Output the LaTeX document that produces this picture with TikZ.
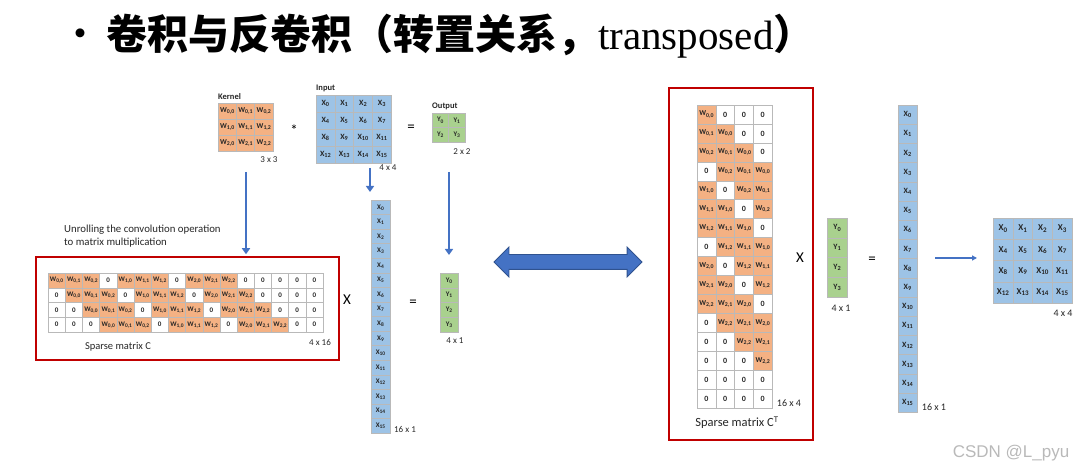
\documentclass[tikz,border=0pt]{standalone}
\usepackage{fontspec}
\setmainfont{Carlito}
\newfontfamily\cjk{Noto Sans CJK SC}
\newfontfamily\tser{Liberation Serif}
\newfontfamily\wmf{Liberation Sans}
\usetikzlibrary{arrows.meta,shapes.arrows}
\definecolor{org}{HTML}{F4B183}
\definecolor{blu}{HTML}{9DC3E6}
\definecolor{grn}{HTML}{A9D18E}
\definecolor{arr}{HTML}{4472C4}
\definecolor{arrd}{HTML}{2F528F}
\definecolor{redb}{HTML}{C00000}
\definecolor{txt}{HTML}{262626}
\newcommand\sbs[1]{\raisebox{-0.3ex}{\scalebox{0.78}{#1}}}
\newcommand\Ws[2]{W\sbs{#1,#2}}
\newcommand\Xs[1]{X\sbs{#1}}
\newcommand\Ys[1]{Y\sbs{#1}}
\newcommand\fs[1]{\fontsize{#1}{#1}\selectfont}
\tikzset{
  cell/.style={draw=gray!55, line width=0.4pt, inner sep=0pt, outer sep=0pt, text=txt, font=\bfseries\fs{7}},
  wcell/.style={cell, fill=org},
  zcell/.style={cell, fill=white},
  xcell/.style={cell, fill=blu},
  ycell/.style={cell, fill=grn},
  lbl/.style={inner sep=0pt, text=txt, font=\fs{9}},
  blbl/.style={inner sep=0pt, text=txt, font=\bfseries\fs{8.5}},
  opsym/.style={inner sep=0pt, text=black, font=\fs{15}},
  redbox/.style={draw=redb, line width=1.5pt, inner sep=0pt},
  barrow/.style={draw=arr, line width=2.6pt, -{Triangle[width=8pt,length=6pt]}},
  tarrow/.style={draw=arr, line width=1.3pt, -{Triangle[width=5pt,length=5pt]}},
}
\begin{document}
\begin{tikzpicture}[x=1pt,y=-1pt]
\useasboundingbox (0,0) rectangle (1080,470);
% title
\node[inner sep=0pt, font=\cjk\bfseries\fs{32}] (bul) at (80,37) {·};
\node[anchor=west, inner sep=0pt, font=\fs{41}] (title) at (106,36)
  {{\cjk\bfseries 卷积与反卷积（转置关系，}{\tser transposed}{\cjk\bfseries ）}};
% kernel
\node[blbl, anchor=south west] (klab) at (218,100) {Kernel};
\foreach \r in {0,1,2}{\foreach \c in {0,1,2}{
  \node[wcell, font=\bfseries\fs{7.5}, minimum width=18.33, minimum height=16] (k-\r-\c) at (218+18.33*\c+9.17, 103+16*\r+8) {\Ws{\r}{\c}};}}
\node[lbl] (kdim) at (269,160) {3 x 3};
\node[opsym] (star) at (294,130) {*};
% input
\node[blbl, anchor=south west] (ilab) at (316,92) {Input};
\foreach \r in {0,...,3}{\foreach \c in {0,...,3}{
  \pgfmathtruncatemacro\n{4*\r+\c}
  \node[xcell, font=\bfseries\fs{8}, minimum width=18.75, minimum height=17] (in-\r-\c) at (316+18.75*\c+9.375, 95+17*\r+8.5) {\Xs{\n}};}}
\node[lbl] (idim) at (388,168) {4 x 4};
\node[opsym] (eq1) at (411,128) {=};
% output
\node[blbl, anchor=south west] (olab) at (432,110) {Output};
\foreach \r in {0,1}{\foreach \c in {0,1}{
  \pgfmathtruncatemacro\n{2*\r+\c}
  \node[ycell, font=\bfseries\fs{7}, minimum width=16.5, minimum height=14.5] (out-\r-\c) at (432+16.5*\c+8.25, 113+14.5*\r+7.25) {\Ys{\n}};}}
\node[lbl] (odim) at (462,152) {2 x 2};
% left red box and sparse matrix C
\node[redbox, minimum width=303, minimum height=103] (cbox) at (187.5,308.5) {};
\node[lbl, anchor=west, font=\fs{10.8}] (unr1) at (64,230) {Unrolling the convolution operation};
\node[lbl, anchor=west, font=\fs{10.8}] (unr2) at (64,242.5) {to matrix multiplication};
\foreach \i in {0,...,3}{\foreach \j in {0,...,15}{
  \pgfmathtruncatemacro\k{\j-\i}
  \pgfmathtruncatemacro\isw{(\k>=0)&&(\k<=10)&&(mod(\k,4)!=3)}
  \pgfmathtruncatemacro\ka{floor(\k/4)}
  \pgfmathtruncatemacro\kb{\k-4*floor(\k/4)}
  \ifnum\isw=1
    \node[wcell, font=\bfseries\fs{7}, minimum width=17.19, minimum height=14.75] (c-\i-\j) at (48+17.19*\j+8.6, 273+14.75*\i+7.375) {\Ws{\ka}{\kb}};
  \else
    \node[zcell, font=\bfseries\fs{7}, minimum width=17.19, minimum height=14.75] (c-\i-\j) at (48+17.19*\j+8.6, 273+14.75*\i+7.375) {0};
  \fi}}
\node[lbl, font=\fs{10.5}] (clab) at (118,347) {Sparse matrix C};
\node[lbl] (cdim) at (320,342) {4 x 16};
\node[opsym] (x1) at (347,300) {X};
% left x column
\foreach \r in {0,...,15}{
  \node[xcell, font=\bfseries\fs{7}, minimum width=19, minimum height=14.56] (xl-\r) at (380.5, 200+14.56*\r+7.28) {\Xs{\r}};}
\node[lbl] (xldim) at (405,429) {16 x 1};
\node[opsym] (eq2) at (413,303) {=};
% left y column
\foreach \r in {0,...,3}{
  \node[ycell, font=\bfseries\fs{7}, minimum width=18, minimum height=14.75] (yl-\r) at (449, 273+14.75*\r+7.375) {\Ys{\r}};}
\node[lbl] (yldim) at (455,341) {4 x 1};
% arrows on the left
\coordinate (a1) at (246,172);
\coordinate (a2) at (370,168);
\coordinate (a3) at (449,172);
\draw[barrow, shorten >=2pt] (a1) -- (a1 |- cbox.north);
\draw[barrow, shorten >=8pt] (a2) -- (a2 |- xl-0.north);
\draw[barrow, shorten >=18pt] (a3) -- (a3 |- yl-0.north);
% double arrow
\node[double arrow, draw=arrd, fill=arr, line width=0.8pt, inner sep=7pt, minimum height=148, double arrow head extend=7.5pt] (dbl) at (568,262) {};
% right red box and C^T
\node[redbox, minimum width=144, minimum height=352] (ctbox) at (741,264) {};
\foreach \j in {0,...,15}{\foreach \i in {0,...,3}{
  \pgfmathtruncatemacro\k{\j-\i}
  \pgfmathtruncatemacro\isw{(\k>=0)&&(\k<=10)&&(mod(\k,4)!=3)}
  \pgfmathtruncatemacro\ka{floor(\k/4)}
  \pgfmathtruncatemacro\kb{\k-4*floor(\k/4)}
  \ifnum\isw=1
    \node[wcell, font=\bfseries\fs{7.5}, minimum width=18.75, minimum height=18.94] (ct-\j-\i) at (697+18.75*\i+9.375, 105+18.94*\j+9.47) {\Ws{\ka}{\kb}};
  \else
    \node[zcell, font=\bfseries\fs{8}, minimum width=18.75, minimum height=18.94] (ct-\j-\i) at (697+18.75*\i+9.375, 105+18.94*\j+9.47) {0};
  \fi}}
\node[lbl, font=\fs{12.5}] (ctlab) at (737,423) {Sparse matrix C\textsuperscript{T}};
\node[lbl, font=\fs{10}] (ctdim) at (789,403) {16 x 4};
\node[opsym] (x2) at (800,258) {X};
% right y column
\foreach \r in {0,...,3}{
  \node[ycell, font=\bfseries\fs{8}, minimum width=20, minimum height=19.75] (yr-\r) at (837, 218+19.75*\r+9.875) {\Ys{\r}};}
\node[lbl, font=\fs{10}] (yrdim) at (841,308) {4 x 1};
\node[opsym] (eq3) at (872,260) {=};
% right x column
\foreach \r in {0,...,15}{
  \node[xcell, font=\bfseries\fs{8}, minimum width=19, minimum height=19.2] (xr-\r) at (907.5, 105+19.2*\r+9.6) {\Xs{\r}};}
\node[lbl, font=\fs{10}] (xrdim) at (934,407) {16 x 1};
% right 4x4 grid
\foreach \r in {0,...,3}{\foreach \c in {0,...,3}{
  \pgfmathtruncatemacro\n{4*\r+\c}
  \node[xcell, font=\bfseries\fs{9}, minimum width=19.75, minimum height=21.25] (xg-\r-\c) at (993+19.75*\c+9.875, 218+21.25*\r+10.625) {\Xs{\n}};}}
\node[lbl, font=\fs{10}] (xgdim) at (1063,313) {4 x 4};
\coordinate (a4) at (935,258);
\draw[tarrow, shorten >=16pt] (a4) -- (a4 -| xg-1-0.west);
% watermark
\node[inner sep=0pt, text=gray!55, font=\wmf\fs{17}] (wm) at (1011,453) {CSDN @L\_pyu};
\end{tikzpicture}
\end{document}
